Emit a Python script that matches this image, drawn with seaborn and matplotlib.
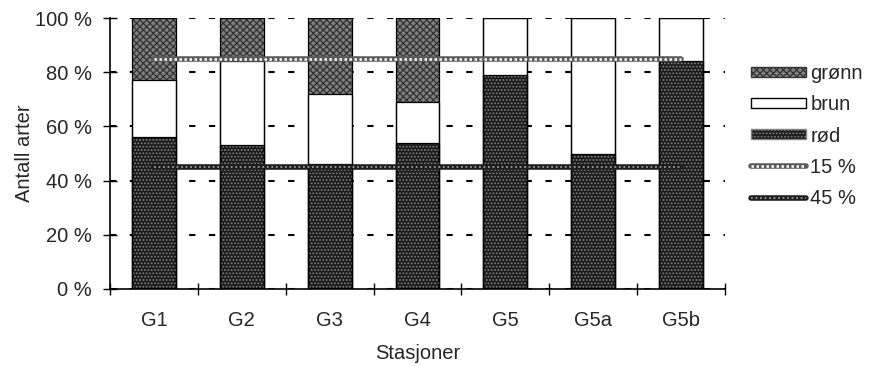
import numpy as np
import pandas as pd
import matplotlib
matplotlib.use('Agg')
import matplotlib.pyplot as plt
import seaborn as sns
from matplotlib.lines import Line2D
from matplotlib.patches import Patch
from matplotlib.legend_handler import HandlerTuple

# Data (lest av figuren)
stasjoner = ['G1', 'G2', 'G3', 'G4', 'G5', 'G5a', 'G5b']
rod = [56, 53, 46, 54, 79, 50, 84]
brun = [21, 31, 26, 15, 21, 50, 16]
gronn = [23, 16, 28, 31, 0, 0, 0]
linje_15 = [85, 85, 85, 85, 85, 85, 85]
linje_45 = [45, 45, 45, 45, 45, 45, 45]
y_ticks = [0, 20, 40, 60, 80, 100]
y_labels = ['0 %', '20 %', '40 %', '60 %', '80 %', '100 %']

sns.set_style('ticks')
plt.rcParams['font.family'] = ['Liberation Sans', 'DejaVu Sans']
plt.rcParams['font.size'] = 14.5
plt.rcParams['hatch.linewidth'] = 0.9

df = pd.DataFrame({'stasjon': stasjoner, 'rod': rod, 'brun': brun, 'gronn': gronn})
df['topp_brun'] = df['rod'] + df['brun']
df['topp_gronn'] = df['topp_brun'] + df['gronn']

fig = plt.figure(figsize=(8.69, 3.66), dpi=100)
ax = fig.add_axes([110 / 869, 1 - 289 / 366, 615 / 869, 271 / 366])

# stablede søyler: tegnes ovenfra og ned
lag = [
    ('topp_gronn', '#808080', 'xxxxx', '#333333'),
    ('topp_brun', 'white', None, None),
    ('rod', '#1a1a1a', '.....', '#808080'),
]
for kol, farge, hatch, hfarge in lag:
    n_for = len(ax.patches)
    sns.barplot(data=df, x='stasjon', y=kol, color=farge, saturation=1,
                width=0.5, linewidth=0, ax=ax, zorder=2)
    if hatch:
        for p in ax.patches[n_for:]:
            p.set_hatch(hatch)
            p.set_edgecolor(hfarge)
            p.set_linewidth(0)
    sns.barplot(data=df, x='stasjon', y=kol, color='black', fill=False,
                width=0.5, linewidth=0.9, ax=ax, zorder=2.5)

# referanselinjer
sns.lineplot(x=stasjoner, y=linje_15, sort=False, color='#5a5a5a', lw=4, ax=ax, zorder=3)
sns.lineplot(x=stasjoner, y=linje_15, sort=False, color='white', lw=1.8,
             linestyle=(0, (1, 1)), ax=ax, zorder=3.1)
sns.lineplot(x=stasjoner, y=linje_45, sort=False, color='#1e1e1e', lw=4, ax=ax, zorder=3)
sns.lineplot(x=stasjoner, y=linje_45, sort=False, color='#9a9a9a', lw=1.3,
             linestyle=(0, (1, 1.5)), ax=ax, zorder=3.1)

ax.set_xlim(-0.5, len(stasjoner) - 0.5)
ax.set_ylim(0, 100)
ax.set_yticks(y_ticks)
ax.set_yticklabels(y_labels)
ax.set_xticks(np.arange(len(stasjoner) + 1) - 0.5)
ax.set_xticklabels([])
ax.set_xticks(np.arange(len(stasjoner)), minor=True)
ax.set_xticklabels(stasjoner, minor=True)
ax.tick_params(axis='x', which='major', direction='inout', length=9, width=1, color='black')
ax.tick_params(axis='x', which='minor', length=0, pad=16)
ax.tick_params(axis='y', direction='inout', length=10, width=1, color='black', pad=8)

ax.yaxis.grid(True, linestyle=(0, (3, 6.5)), color='black', lw=1.5)
ax.set_axisbelow(True)
sns.despine(ax=ax)
for s in ['left', 'bottom']:
    ax.spines[s].set_color('black')
    ax.spines[s].set_linewidth(1.2)

ax.set_xlabel('Stasjoner', labelpad=10)
ax.set_ylabel('Antall arter', labelpad=1)

handles = [
    Patch(facecolor='#808080', hatch='xxxxx', edgecolor='#333333'),
    Patch(facecolor='white', edgecolor='black', lw=1),
    Patch(facecolor='#1a1a1a', hatch='.....', edgecolor='#808080'),
    (Line2D([], [], color='#5a5a5a', lw=4),
     Line2D([], [], color='white', lw=1.8, linestyle=(0, (1, 1)))),
    (Line2D([], [], color='#1e1e1e', lw=4),
     Line2D([], [], color='#9a9a9a', lw=1.3, linestyle=(0, (1, 1.5)))),
]
labels = ['grønn', 'brun', 'rød', '15 %', '45 %']
fig.legend(handles, labels, loc='center left', bbox_to_anchor=(743 / 869, 1 - 136 / 366),
           frameon=False, handlelength=2.75, handleheight=0.4, handletextpad=0.2,
           labelspacing=0.6, borderaxespad=0,
           handler_map={tuple: HandlerTuple(ndivide=1, pad=0)})

fig.savefig('out.png', dpi=100)
